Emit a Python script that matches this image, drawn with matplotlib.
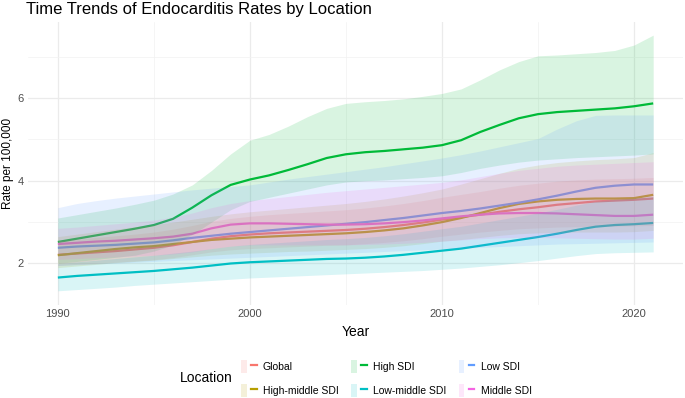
import numpy as np
import matplotlib.pyplot as plt
from matplotlib.patches import Patch
from matplotlib.lines import Line2D
from matplotlib.legend_handler import HandlerTuple

plt.rcParams['font.family'] = ['Liberation Sans', 'DejaVu Sans']

years = list(range(1990, 2022))

locations = ['Global', 'High-middle SDI', 'High SDI', 'Low-middle SDI', 'Low SDI', 'Middle SDI']
colors = ['#F8766D', '#B79F00', '#00BA38', '#00BFC4', '#619CFF', '#F564E3']

global_val = [2.21, 2.24, 2.27, 2.30, 2.34, 2.38, 2.44, 2.52, 2.60, 2.66, 2.70, 2.73, 2.75, 2.77, 2.79, 2.81,
              2.84, 2.88, 2.93, 2.99, 3.06, 3.12, 3.18, 3.25, 3.31, 3.36, 3.42, 3.46, 3.50, 3.52, 3.54, 3.57]
global_lo = [1.95, 1.98, 2.00, 2.03, 2.06, 2.09, 2.14, 2.21, 2.28, 2.33, 2.36, 2.38, 2.40, 2.42, 2.44, 2.45,
             2.48, 2.51, 2.55, 2.60, 2.66, 2.71, 2.76, 2.80, 2.84, 2.86, 2.88, 2.89, 2.90, 2.90, 2.91, 2.92]
global_hi = [2.55, 2.59, 2.63, 2.67, 2.71, 2.76, 2.83, 2.92, 3.02, 3.09, 3.14, 3.18, 3.21, 3.24, 3.27, 3.30,
             3.34, 3.39, 3.45, 3.52, 3.60, 3.67, 3.74, 3.82, 3.89, 3.94, 3.99, 4.02, 4.04, 4.05, 4.06, 4.08]

hmid_val = [2.20, 2.25, 2.30, 2.35, 2.39, 2.42, 2.47, 2.52, 2.57, 2.60, 2.63, 2.65, 2.67, 2.69, 2.71, 2.73,
            2.76, 2.80, 2.85, 2.92, 3.00, 3.10, 3.22, 3.34, 3.44, 3.50, 3.54, 3.56, 3.57, 3.57, 3.58, 3.66]
hmid_lo = [1.90, 1.94, 1.98, 2.02, 2.05, 2.08, 2.12, 2.16, 2.20, 2.23, 2.25, 2.27, 2.29, 2.30, 2.32, 2.34,
           2.36, 2.39, 2.43, 2.48, 2.54, 2.58, 2.63, 2.68, 2.72, 2.74, 2.75, 2.76, 2.76, 2.76, 2.77, 2.80]
hmid_hi = [2.65, 2.71, 2.77, 2.83, 2.89, 2.94, 3.00, 3.07, 3.14, 3.20, 3.25, 3.29, 3.33, 3.37, 3.41, 3.45,
           3.50, 3.56, 3.63, 3.71, 3.80, 3.92, 4.05, 4.18, 4.30, 4.38, 4.44, 4.48, 4.51, 4.53, 4.56, 4.68]

high_val = [2.52, 2.60, 2.68, 2.76, 2.84, 2.93, 3.08, 3.35, 3.65, 3.90, 4.03, 4.13, 4.26, 4.40, 4.55, 4.64,
            4.69, 4.72, 4.76, 4.80, 4.86, 4.98, 5.18, 5.35, 5.51, 5.61, 5.66, 5.69, 5.72, 5.75, 5.80, 5.87]
high_lo = [2.00, 2.05, 2.10, 2.15, 2.20, 2.30, 2.45, 2.70, 3.00, 3.30, 3.50, 3.60, 3.70, 3.80, 3.90, 3.97,
           4.00, 4.02, 4.05, 4.08, 4.12, 4.20, 4.30, 4.38, 4.45, 4.50, 4.53, 4.56, 4.58, 4.60, 4.62, 4.65]
high_hi = [3.10, 3.18, 3.26, 3.34, 3.43, 3.53, 3.68, 3.90, 4.25, 4.65, 4.98, 5.12, 5.32, 5.55, 5.75, 5.87,
           5.91, 5.94, 5.98, 6.04, 6.11, 6.22, 6.44, 6.68, 6.88, 7.02, 7.04, 7.07, 7.10, 7.15, 7.28, 7.52]

lmid_val = [1.66, 1.70, 1.73, 1.76, 1.79, 1.82, 1.86, 1.90, 1.95, 2.00, 2.03, 2.05, 2.07, 2.09, 2.11, 2.12,
            2.14, 2.17, 2.21, 2.26, 2.31, 2.36, 2.43, 2.50, 2.57, 2.64, 2.72, 2.81, 2.89, 2.93, 2.95, 2.98]
lmid_lo = [1.34, 1.37, 1.40, 1.43, 1.47, 1.50, 1.53, 1.56, 1.59, 1.62, 1.65, 1.67, 1.69, 1.71, 1.73, 1.75,
           1.77, 1.79, 1.81, 1.83, 1.86, 1.89, 1.93, 1.97, 2.02, 2.07, 2.13, 2.19, 2.24, 2.26, 2.27, 2.28]
lmid_hi = [2.00, 2.04, 2.08, 2.12, 2.16, 2.20, 2.25, 2.30, 2.36, 2.42, 2.46, 2.49, 2.52, 2.55, 2.58, 2.60,
           2.63, 2.67, 2.72, 2.78, 2.84, 2.90, 2.98, 3.06, 3.14, 3.22, 3.31, 3.41, 3.50, 3.55, 3.58, 3.62]

low_val = [2.38, 2.41, 2.43, 2.45, 2.48, 2.51, 2.56, 2.62, 2.67, 2.72, 2.76, 2.80, 2.84, 2.88, 2.92, 2.96,
           3.00, 3.05, 3.10, 3.16, 3.22, 3.27, 3.33, 3.40, 3.47, 3.55, 3.64, 3.74, 3.83, 3.88, 3.91, 3.91]
low_lo = [1.95, 1.97, 1.99, 2.01, 2.03, 2.05, 2.07, 2.09, 2.11, 2.13, 2.15, 2.17, 2.19, 2.21, 2.23, 2.25,
          2.27, 2.29, 2.31, 2.33, 2.35, 2.37, 2.39, 2.41, 2.43, 2.45, 2.47, 2.48, 2.49, 2.50, 2.51, 2.52]
low_hi = [3.35, 3.45, 3.52, 3.58, 3.63, 3.68, 3.73, 3.78, 3.82, 3.86, 3.90, 3.97, 4.04, 4.10, 4.16, 4.22,
          4.28, 4.34, 4.41, 4.48, 4.55, 4.63, 4.72, 4.82, 4.92, 5.02, 5.25, 5.45, 5.58, 5.59, 5.59, 5.59]

mid_val = [2.47, 2.50, 2.53, 2.55, 2.58, 2.61, 2.65, 2.72, 2.85, 2.94, 2.97, 2.97, 2.96, 2.95, 2.94, 2.94,
           2.95, 2.97, 3.00, 3.04, 3.09, 3.14, 3.18, 3.21, 3.22, 3.22, 3.21, 3.19, 3.17, 3.15, 3.15, 3.18]
mid_lo = [2.10, 2.12, 2.14, 2.16, 2.18, 2.20, 2.23, 2.28, 2.36, 2.42, 2.45, 2.45, 2.45, 2.45, 2.45, 2.45,
          2.46, 2.47, 2.49, 2.51, 2.54, 2.57, 2.60, 2.62, 2.63, 2.63, 2.62, 2.61, 2.60, 2.59, 2.59, 2.61]
mid_hi = [2.85, 2.88, 2.92, 2.96, 3.00, 3.05, 3.12, 3.22, 3.35, 3.45, 3.52, 3.57, 3.62, 3.67, 3.72, 3.76,
          3.80, 3.84, 3.88, 3.92, 3.96, 4.02, 4.10, 4.18, 4.25, 4.30, 4.35, 4.38, 4.40, 4.42, 4.44, 4.46]

vals = [global_val, hmid_val, high_val, lmid_val, low_val, mid_val]
los = [global_lo, hmid_lo, high_lo, lmid_lo, low_lo, mid_lo]
his = [global_hi, hmid_hi, high_hi, lmid_hi, low_hi, mid_hi]

fig = plt.figure(figsize=(6.85, 3.98), dpi=100)
ax = fig.add_axes([0.041, 0.234, 0.956, 0.711])

# lines first, ribbons over them (as in the original)
for v, c in zip(vals, colors):
    ax.plot(years, v, color=c, lw=1.6, solid_capstyle='butt', zorder=2)
for lo, hi, c in zip(los, his, colors):
    ax.fill_between(years, lo, hi, color=c, alpha=0.15, linewidth=0, zorder=3)

ax.set_xlim(1988.45, 2022.55)
ax.set_ylim(1.02, 7.84)
ax.set_xticks([1990, 2000, 2010, 2020])
ax.set_xticks([1995, 2005, 2015], minor=True)
ax.set_yticks([2, 4, 6])
ax.set_yticks([1, 3, 5, 7], minor=True)
ax.grid(which='major', color='#EBEBEB', lw=0.9)
ax.grid(which='minor', color='#F2F2F2', lw=0.5)
ax.set_axisbelow(True)
for s in ax.spines.values():
    s.set_visible(False)
ax.tick_params(which='both', length=0, labelsize=8, labelcolor='#4D4D4D', pad=3)
ax.set_xlabel('Year', fontsize=10, labelpad=4)
ax.set_title('Time Trends of Endocarditis Rates by Location', fontsize=12, loc='left', pad=6, x=-0.003)
fig.text(0.012, 0.59, 'Rate per 100,000', fontsize=8.5, rotation=90, va='center', ha='center')

handles = [(Patch(facecolor=c, alpha=0.15, edgecolor='none'), Line2D([], [], color=c, lw=1.6))
           for c in colors]
fig.legend(handles, locations, ncol=3, handler_map={tuple: HandlerTuple(ndivide=None)},
           loc='center left', bbox_to_anchor=(0.338, 0.049), frameon=False, fontsize=7.5,
           handlelength=1.5, handleheight=1.6, columnspacing=1.2, handletextpad=0.6, labelspacing=1.0)
fig.text(0.262, 0.049, 'Location', fontsize=10, va='center', ha='left')

fig.savefig('out.png', dpi=100)
